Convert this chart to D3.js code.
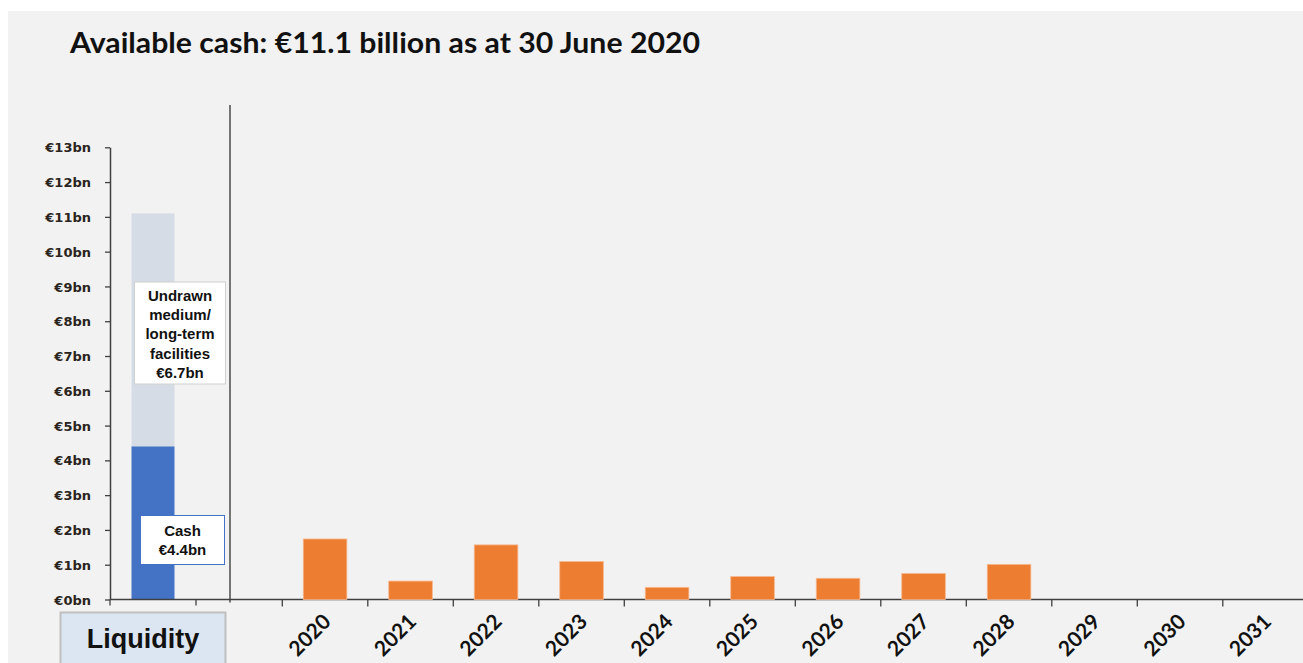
<!DOCTYPE html>
<html><head><meta charset="utf-8">
<script src="https://cdn.jsdelivr.net/npm/d3@7"></script>
<style>
html,body{margin:0;padding:0;background:#ffffff;}
svg{display:block;}
</style></head>
<body>
<svg id="chart" width="1303" height="663"></svg>
<script>
// ---- data ----
const title = "Available cash: €11.1 billion as at 30 June 2020";
const liquidityCategory = ["Liquidity"];
const cashValue = [4.4];
const undrawnValue = [6.7];
const cashLabel = ["Cash", "€4.4bn"];
const undrawnLabel = ["Undrawn", "medium/", "long-term", "facilities", "€6.7bn"];
const years = ["2020","2021","2022","2023","2024","2025","2026","2027","2028","2029","2030","2031"];
const maturities = [1.74, 0.53, 1.57, 1.09, 0.35, 0.66, 0.61, 0.75, 1.01, 0, 0, 0];
const yTicks = [0,1,2,3,4,5,6,7,8,9,10,11,12,13];

// ---- layout ----
const svg = d3.select("#chart");
const W = 1303, H = 663;
const baseY = 599.5, topY = 147.3;
const axisColor = "#404040";

svg.append("rect").attr("x", 8).attr("y", 11).attr("width", W - 8).attr("height", H - 11).attr("fill", "#f2f2f2");

svg.append("text").attr("x", 70).attr("y", 53)
  .attr("font-family", "Lato, 'Open Sans', sans-serif").attr("font-weight", "bold")
  .attr("font-size", 28).attr("fill", "#111")
  .attr("textLength", 630).attr("lengthAdjust", "spacingAndGlyphs")
  .text(title);

const y = d3.scaleLinear().domain([0, 13]).range([baseY, topY]);

// left liquidity chart
const xL = d3.scaleBand().domain(liquidityCategory).range([110, 196]).paddingInner(0.5).paddingOuter(0.25);
const xLedge = d3.scaleBand().domain(liquidityCategory).range([110, 196]);

const gL = svg.append("g");
gL.append("rect").attr("x", xL("Liquidity")).attr("width", xL.bandwidth())
  .attr("y", y(cashValue[0] + undrawnValue[0])).attr("height", y(cashValue[0]) - y(cashValue[0] + undrawnValue[0]))
  .attr("fill", "#d6dce5");
gL.append("rect").attr("x", xL("Liquidity")).attr("width", xL.bandwidth())
  .attr("y", y(cashValue[0])).attr("height", y(0) - y(cashValue[0]))
  .attr("fill", "#4472c4");

const yAxis = d3.axisLeft(y).tickValues(yTicks).tickFormat(d => `€${d}bn`).tickSize(5).tickSizeOuter(0);
const gy = svg.append("g").attr("transform", "translate(110,0)").call(yAxis);
gy.select(".domain").attr("stroke", axisColor).attr("stroke-width", 1.5);
gy.selectAll(".tick line").attr("stroke", axisColor).attr("stroke-width", 1.3);
gy.selectAll(".tick text").attr("x", -19).attr("font-family", "'DejaVu Sans', Verdana, sans-serif")
  .attr("font-weight", "bold").attr("font-size", 13).attr("fill", "#2a2420").attr("dy", "0.35em");

// left x-axis ticks
[xLedge("Liquidity"), xLedge("Liquidity") + xLedge.bandwidth()].forEach(xx => {
  svg.append("line").attr("x1", xx).attr("x2", xx).attr("y1", baseY).attr("y2", baseY + 6)
    .attr("stroke", axisColor).attr("stroke-width", 1.3);
});

// divider
svg.append("line").attr("x1", 230).attr("x2", 230).attr("y1", 105).attr("y2", baseY + 3)
  .attr("stroke", "#303030").attr("stroke-width", 1.3);

// baseline
svg.append("line").attr("x1", 110).attr("x2", W).attr("y1", baseY).attr("y2", baseY)
  .attr("stroke", axisColor).attr("stroke-width", 1.6);

// label boxes
function labelBox(x0, y0, w, h, lines, stroke, lineH, firstY) {
  svg.append("rect").attr("x", x0).attr("y", y0).attr("width", w).attr("height", h)
    .attr("fill", "#ffffff").attr("stroke", stroke).attr("stroke-width", 1);
  const t = svg.append("text").attr("text-anchor", "middle")
    .attr("font-family", "'Liberation Sans', Arial, sans-serif").attr("font-weight", "bold")
    .attr("font-size", 15).attr("fill", "#111");
  lines.forEach((l, i) => t.append("tspan").attr("x", x0 + w / 2).attr("y", firstY + i * lineH).text(l));
}
labelBox(134.5, 282, 91, 102, undrawnLabel, "#d0d0d0", 19.2, 301);
labelBox(140.5, 515.5, 84, 49, cashLabel, "#4472c4", 19, 536);

// Liquidity box
svg.append("rect").attr("x", 60.5).attr("y", 612.5).attr("width", 165).attr("height", 60)
  .attr("fill", "#dce6f2").attr("stroke", "#bfbfbf").attr("stroke-width", 2);
svg.append("text").attr("x", 143).attr("y", 648).attr("text-anchor", "middle")
  .attr("font-family", "'Liberation Sans', Arial, sans-serif").attr("font-weight", "bold")
  .attr("font-size", 27).attr("fill", "#111").text(liquidityCategory[0]);

// right maturity chart
const x0 = 282.3, step = 85.5;
const xR = d3.scaleBand().domain(years).range([x0, x0 + step * years.length]).paddingInner(0.49).paddingOuter(0.245);
const xRedge = d3.scaleBand().domain(years).range([x0, x0 + step * years.length]);

svg.append("g").selectAll("rect").data(years.map((d, i) => ({ year: d, v: maturities[i] })).filter(d => d.v > 0))
  .join("rect")
  .attr("x", d => xR(d.year)).attr("width", xR.bandwidth())
  .attr("y", d => y(d.v)).attr("height", d => y(0) - y(d.v))
  .attr("fill", "#ed7d31").attr("stroke", "#f6b98f").attr("stroke-width", 0.8);

// ticks at band edges
svg.append("g").selectAll("line").data(years).join("line")
  .attr("x1", d => xRedge(d)).attr("x2", d => xRedge(d))
  .attr("y1", baseY).attr("y2", baseY + 7)
  .attr("stroke", axisColor).attr("stroke-width", 1.3);

// year labels
svg.append("g").selectAll("text").data(years).join("text")
  .attr("transform", d => `translate(${xRedge(d) + xRedge.bandwidth() / 2 + 7},${623}) rotate(-45)`)
  .attr("text-anchor", "end")
  .attr("font-family", "Lato, 'Open Sans', sans-serif").attr("font-size", 21).attr("font-weight", "bold")
  .attr("fill", "#111").text(d => d);
</script>
</body></html>
